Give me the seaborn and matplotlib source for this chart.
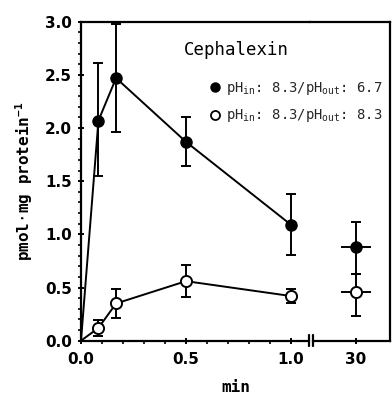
import numpy as np
import pandas as pd
import matplotlib
matplotlib.use("Agg")
import matplotlib.pyplot as plt
from matplotlib.lines import Line2D
from matplotlib.ticker import MultipleLocator
import seaborn as sns

# ---- data ----
times = [0.0, 0.083, 0.167, 0.5, 1.0]
acid_mean = [0.0, 2.07, 2.47, 1.87, 1.09]
acid_lo = [0.0, 1.55, 1.96, 1.64, 0.81]
acid_hi = [0.0, 2.61, 2.98, 2.10, 1.38]
neut_mean = [0.0, 0.12, 0.35, 0.56, 0.42]
neut_lo = [0.0, 0.04, 0.21, 0.41, 0.35]
neut_hi = [0.0, 0.195, 0.49, 0.71, 0.485]
late_time = [30.0]
late_time_err = [1.3]
acid_late = [0.88]
acid_late_lo = [0.63]
acid_late_hi = [1.12]
neut_late = [0.46]
neut_late_lo = [0.235]
neut_late_hi = [0.63]
x_ticks_left = [0.0, 0.5, 1.0]
x_tick_labels_left = ["0.0", "0.5", "1.0"]
x_ticks_right = [30]
y_ticks = [0.0, 0.5, 1.0, 1.5, 2.0, 2.5, 3.0]
label_acid = r"pH$_{\mathregular{in}}$: 8.3/pH$_{\mathregular{out}}$: 6.7"
label_neut = r"pH$_{\mathregular{in}}$: 8.3/pH$_{\mathregular{out}}$: 8.3"

sns.set_theme(style="ticks")
plt.rcParams["font.family"] = ["DejaVu Sans Mono", "DejaVu Sans"]
plt.rcParams["mathtext.fontset"] = "custom"
plt.rcParams["mathtext.rm"] = "DejaVu Sans Mono"
plt.rcParams["mathtext.it"] = "DejaVu Sans Mono"

W, H = 392, 394
fig = plt.figure(figsize=(W / 100, H / 100), dpi=100)
fig.patch.set_facecolor("white")

def fx(px):
    return px / W

def fy(py):
    return 1 - py / H

ax_l = fig.add_axes([fx(81), fy(340.7), fx(310) - fx(81), fy(21.7) - fy(340.7)])
ax_r = fig.add_axes([fx(310), fy(340.7), fx(390) - fx(310), fy(21.7) - fy(340.7)], sharey=ax_l)

lw = 1.4
ms = 8
cap = 3.6

df_acid = pd.DataFrame({"t": times, "v": acid_mean})
df_neut = pd.DataFrame({"t": times, "v": neut_mean})
sns.lineplot(data=df_acid, x="t", y="v", ax=ax_l, color="black", lw=lw, zorder=2)
sns.lineplot(data=df_neut, x="t", y="v", ax=ax_l, color="black", lw=lw, zorder=2)

a_m = np.array(acid_mean[1:]); n_m = np.array(neut_mean[1:])
ax_l.errorbar(times[1:], a_m,
              yerr=[a_m - np.array(acid_lo[1:]), np.array(acid_hi[1:]) - a_m],
              fmt="o", color="black", ms=ms, capsize=cap, elinewidth=lw, capthick=lw, zorder=3)
ax_l.errorbar(times[1:], n_m,
              yerr=[n_m - np.array(neut_lo[1:]), np.array(neut_hi[1:]) - n_m],
              fmt="o", color="black", mfc="white", mec="black", mew=1.4, ms=ms,
              capsize=cap, elinewidth=lw, capthick=lw, zorder=3)

al = np.array(acid_late); nl = np.array(neut_late)
ax_r.errorbar(late_time, al, xerr=late_time_err,
              yerr=[al - np.array(acid_late_lo), np.array(acid_late_hi) - al],
              fmt="o", color="black", ms=ms, capsize=cap, elinewidth=lw, capthick=lw, zorder=3)
ax_r.errorbar(late_time, nl, xerr=late_time_err,
              yerr=[nl - np.array(neut_late_lo), np.array(neut_late_hi) - nl],
              fmt="o", color="black", mfc="white", mec="black", mew=1.4, ms=ms,
              capsize=cap, elinewidth=lw, capthick=lw, zorder=3)
# keep caps only on the vertical bars
for cont in ax_r.containers:
    for c in cont.lines[1]:
        if c.get_marker() == "|":
            c.set_visible(False)

ax_l.set_xlim(0, (310 - 81) / 210)
ax_r.set_xlim(26, 33)
ax_l.set_ylim(0, 3.0)

for ax in (ax_l, ax_r):
    ax.set_facecolor("white")
    ax.set_xlabel("")
    ax.set_ylabel("")
    for s in ax.spines.values():
        s.set_linewidth(1.6)
        s.set_color("black")

ax_l.spines["right"].set_visible(False)
ax_r.spines["left"].set_visible(False)
ax_l.spines["bottom"].set_bounds(0, (308 - 81) / 210)
ax_r.spines["bottom"].set_bounds(26 + (313 - 310) / 80 * 7, 33)

ax_l.set_yticks(y_ticks)
ax_l.yaxis.set_minor_locator(MultipleLocator(0.1))
ax_l.set_xticks(x_ticks_left)
ax_l.set_xticklabels(x_tick_labels_left)
ax_l.xaxis.set_minor_locator(MultipleLocator(0.1))
ax_r.set_xticks(x_ticks_right)
ax_r.tick_params(axis="y", left=False, labelleft=False, which="both")

for ax in (ax_l, ax_r):
    ax.tick_params(which="major", direction="inout", length=5, width=1.4, color="black")
    ax.tick_params(which="minor", direction="out", length=2.5, width=1.2, color="black")
    ax.tick_params(axis="x", pad=5.5)
    ax.tick_params(axis="y", pad=4)
    for lab in ax.get_xticklabels() + ax.get_yticklabels():
        lab.set_fontfamily("DejaVu Sans")
        lab.set_fontweight("bold")
        lab.set_fontsize(11)
        lab.set_color("black")

# axis break marks
for px in (308.5, 313):
    fig.add_artist(Line2D([fx(px), fx(px)], [fy(335), fy(346)], transform=fig.transFigure,
                          color="black", lw=1.6))

fig.text(fx(24), fy(181), r"pmol$\cdot$mg protein$^{\mathregular{-1}}$", rotation=90,
         ha="center", va="center", fontsize=11.5, fontweight="bold", color="black")
fig.text(fx(236), fy(387), "min", ha="center", va="center", fontsize=11.5,
         fontweight="bold", color="black")
fig.text(fx(184), fy(55), "Cephalexin", ha="left", va="baseline", fontsize=12.5, color="black")

handles = [
    Line2D([], [], marker="o", ls="none", color="black", ms=6.5),
    Line2D([], [], marker="o", ls="none", mfc="white", mec="black", mew=1.3, ms=6.5),
]
fig.legend(handles, [label_acid, label_neut], loc="upper left",
           bbox_to_anchor=(fx(209), fy(80)), frameon=False, fontsize=10,
           handlelength=0.8, handletextpad=0.4, labelspacing=0.75, borderpad=0, borderaxespad=0)

fig.savefig("out.png", dpi=100, facecolor="white")
